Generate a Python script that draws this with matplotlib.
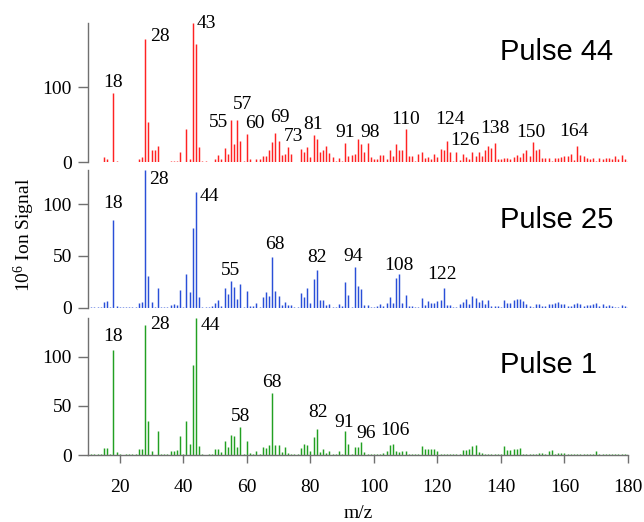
import matplotlib
matplotlib.use("Agg")
import matplotlib.pyplot as plt
import numpy as np

# m/z axis (one bar per nominal mass)
mz = list(range(11, 181))

# Ion signal (units of 1e6 counts) for m/z 11..180
pulse44 = [
    1, 1, 1, 1, 7, 5, 1, 92, 2, 1,            # 11-20
    1, 1, 1, 1, 1, 5, 7, 164, 54, 17,         # 21-30
    17, 22, 1, 1, 1, 2, 2, 2, 14, 1,          # 31-40
    44, 5, 186, 157, 20, 2, 2, 1, 1, 5,       # 41-50
    10, 5, 19, 11, 57, 24, 56, 29, 2, 38,     # 51-60
    5, 1, 5, 5, 8, 8, 16, 27, 39, 28,         # 61-70
    10, 11, 20, 11, 1, 1, 18, 14, 20, 7,      # 71-80
    36, 31, 14, 17, 22, 13, 7, 2, 6, 2,       # 81-90
    26, 8, 10, 11, 31, 24, 14, 26, 7, 5,      # 91-100
    4, 10, 10, 5, 16, 9, 24, 16, 16, 44,      # 101-110
    9, 9, 2, 11, 14, 6, 7, 5, 11, 7,          # 111-120
    18, 17, 28, 14, 2, 14, 3, 11, 7, 4,       # 121-130
    14, 9, 14, 9, 16, 22, 19, 26, 5, 4,       # 131-140
    6, 6, 4, 7, 10, 7, 12, 17, 8, 27,         # 141-150
    16, 18, 6, 6, 6, 2, 6, 6, 7, 8,           # 151-160
    8, 11, 3, 22, 10, 8, 6, 5, 6, 2,          # 161-170
    6, 5, 6, 6, 5, 9, 5, 10, 5, 2,            # 171-180
]

pulse25 = [
    1, 1, 1, 1, 5.5, 6, 1, 85, 2, 1,          # 11-20
    0.5, 0.5, 1, 1, 1, 5, 5.5, 133, 31, 5.5,  # 21-30
    1, 19, 1, 1, 1, 3, 3.5, 3, 17, 1,         # 31-40
    33, 15, 77, 112, 10, 1, 1, 1, 2, 5,       # 41-50
    7.5, 2, 19, 13, 26, 20, 8, 23, 1, 16,     # 51-60
    2, 2, 5, 1, 10, 15, 11, 49, 16, 11,       # 61-70
    3, 5.5, 3, 3, 1, 1, 14, 10, 19, 5,        # 71-80
    28, 36, 7, 7, 3, 3.5, 1, 1, 4, 2,         # 81-90
    24.5, 12, 1, 39, 20.5, 18.5, 3, 3, 1, 1,  # 91-100
    1.5, 3.5, 2, 5, 10.5, 5, 29, 32.5, 5, 12, # 101-110
    2, 1.5, 1, 1, 9.5, 3, 6.5, 5, 5, 6.5,     # 111-120
    7, 19, 3, 3, 0.5, 1, 3.5, 5.5, 8.5, 3.5,  # 121-130
    11.5, 9.5, 5.5, 7.5, 3.5, 7, 1.5, 1.5, 1.5, 1,  # 131-140
    7, 5, 5, 7, 8, 8, 6.5, 4, 1.5, 0.5,       # 141-150
    3.5, 3.5, 2, 2, 4, 4, 5, 5.5, 3.5, 4,     # 151-160
    2, 1.5, 3.5, 5, 4, 2, 3, 3, 3.5, 5,       # 161-170
    2, 4, 2, 3, 1.5, 1, 1, 3, 2, 1,           # 171-180
]

pulse1 = [
    1, 1, 1, 1, 7, 7, 1.5, 107, 3.5, 1,       # 11-20
    0.5, 1, 1, 1, 1, 6, 6, 133, 35, 4.5,      # 21-30
    0.5, 24, 1, 1, 1, 4, 4, 5, 19, 1,         # 31-40
    35, 11.5, 92, 140, 9, 1, 0.5, 1, 1, 6,    # 41-50
    6, 3.5, 14, 8, 20, 19, 8.5, 28.5, 1.5, 14,  # 51-60
    2, 1.5, 4, 1.5, 8, 7.5, 10, 63, 10, 10,   # 61-70
    3.5, 8, 2, 1.5, 1.5, 1, 7.5, 11.5, 10, 4, # 71-80
    18, 26.5, 3.5, 6, 2, 4, 1, 1, 4, 1.5,     # 81-90
    24, 11.5, 1.5, 8, 8, 13, 3, 1, 1, 1,      # 91-100
    1, 1, 2.5, 4, 10, 11, 4.5, 3, 4, 4,       # 101-110
    1, 1, 1, 1, 9, 6, 6.5, 6.5, 6.5, 4,       # 111-120
    1, 1, 1, 1, 1, 1, 1, 5, 5, 6.5,           # 121-130
    9, 10, 3, 2.5, 1, 1, 1, 1, 1, 1,          # 131-140
    9, 5, 5, 6.5, 6.5, 7, 1, 1, 1.5, 1,       # 141-150
    1, 2, 2, 1, 4, 5, 1, 2.5, 2.5, 2.5,       # 151-160
    1, 1, 1, 1, 1.5, 1.5, 1, 1, 1, 4.5,       # 161-170
    1, 1, 1, 1, 1, 1, 1, 1, 1, 1,             # 171-180
]

panel_titles = ["Pulse 44", "Pulse 25", "Pulse 1"]
series = [pulse44, pulse25, pulse1]
colors = ["#ff2222", "#2a4fd8", "#22a022"]
y_tops = [186, 133, 140]
y_ticks = [[0, 100], [0, 50, 100], [0, 50, 100]]
x_ticks = [20, 40, 60, 80, 100, 120, 140, 160, 180]

# Peak annotations: (m/z, dx px, dy px, horizontal alignment)
peak_labels = [
    [(18, 0, 6, "center"), (28, 4.5, -2, "left"), (43, 3.5, -5.5, "left"),
     (55, -2.5, -7.5, "right"), (57, 5.5, 11, "center"), (60, 8.5, 6, "center"),
     (69, 4, 11, "center"), (73, 5, 6, "center"), (81, 0, 6, "center"),
     (91, 0, 6, "center"), (98, 3, 6, "center"), (110, 0, 5.5, "center"),
     (124, 0, 28, "center"), (126, 8, 7, "center"), (138, 0, 10, "center"),
     (150, -2, 5.5, "center"), (164, -3.5, 10, "center")],
    [(18, 0, 11.5, "center"), (28, 3.5, -14, "left"), (44, 3.5, -9.5, "left"),
     (55, 0, 5.5, "center"), (68, 3, 7.5, "center"), (82, 0, 8.5, "center"),
     (94, -2, 6.5, "center"), (108, 0, 4.5, "center"), (122, -1.5, 9.5, "center")],
    [(18, 0, 9.5, "center"), (28, 4.5, -4.5, "left"), (44, 4.5, -12, "left"),
     (58, 0, 6.5, "center"), (68, 0, 6, "center"), (82, 1, 12, "center"),
     (91, -1.5, 4.5, "center"), (96, 5, 4.5, "center"), (106, 1.5, 9.5, "center")],
]

plt.rcParams["font.family"] = ["Liberation Serif", "DejaVu Serif"]
plt.rcParams["mathtext.fontset"] = "custom"
plt.rcParams["mathtext.rm"] = "Liberation Serif"
plt.rcParams["font.size"] = 14

W, H = 644, 522
fig = plt.figure(figsize=(W / 100, H / 100), dpi=100)

# panel extents in pixels (top, bottom)
panel_px = [(22.7, 162.3), (170.0, 307.7), (317.7, 455.0)]
left_px, right_px = 88, 628
title_base_px = [60, 228, 373]
spine_col = "#707070"

for i in range(3):
    top, bot = panel_px[i]
    ax = fig.add_axes([left_px / W, 1 - bot / H, (right_px - left_px) / W, (bot - top) / H])
    vals = series[i]
    # stick spectrum: one thin bar per nominal mass
    ax.vlines(mz, 0, vals, colors=colors[i], linewidth=1.05, capstyle="butt")
    ax.set_xlim(10, 180)
    ax.set_ylim(0, y_tops[i])
    ax.set_yticks(y_ticks[i])
    for s in ["top", "right"]:
        ax.spines[s].set_visible(False)
    ax.spines["left"].set_color(spine_col)
    ax.spines["left"].set_linewidth(1.0)
    ax.tick_params(axis="y", direction="out", length=7.5, width=1.0,
                   color=spine_col, pad=4, labelsize=14)
    if i < 2:
        ax.spines["bottom"].set_visible(False)
        ax.set_xticks([])
    else:
        ax.spines["bottom"].set_color(spine_col)
        ax.spines["bottom"].set_linewidth(1.0)
        ax.set_xticks(x_ticks)
        ax.tick_params(axis="x", direction="out", length=5.5, width=1.0,
                       color=spine_col, pad=12, labelsize=14)
    ax.patch.set_alpha(0)

    val_by_mz = dict(zip(mz, vals))
    for m, dx, dy, ha in peak_labels[i]:
        ax.annotate(str(m), xy=(m, val_by_mz[m]), xytext=(dx, dy),
                    textcoords="offset pixels", ha=ha, va="baseline",
                    fontsize=14, annotation_clip=False)

    fig.text(500 / W, 1 - title_base_px[i] / H, panel_titles[i],
             family=["Liberation Sans", "DejaVu Sans"], fontsize=21,
             ha="left", va="baseline")

fig.text(24 / W, 1 - 235 / H, r"$\mathrm{10^{6}}$ Ion Signal", rotation=90,
         ha="center", va="center", fontsize=14)
fig.text(358 / W, 1 - 514 / H, "m/z", ha="center", va="center", fontsize=14)

fig.savefig("out.png", dpi=100)
